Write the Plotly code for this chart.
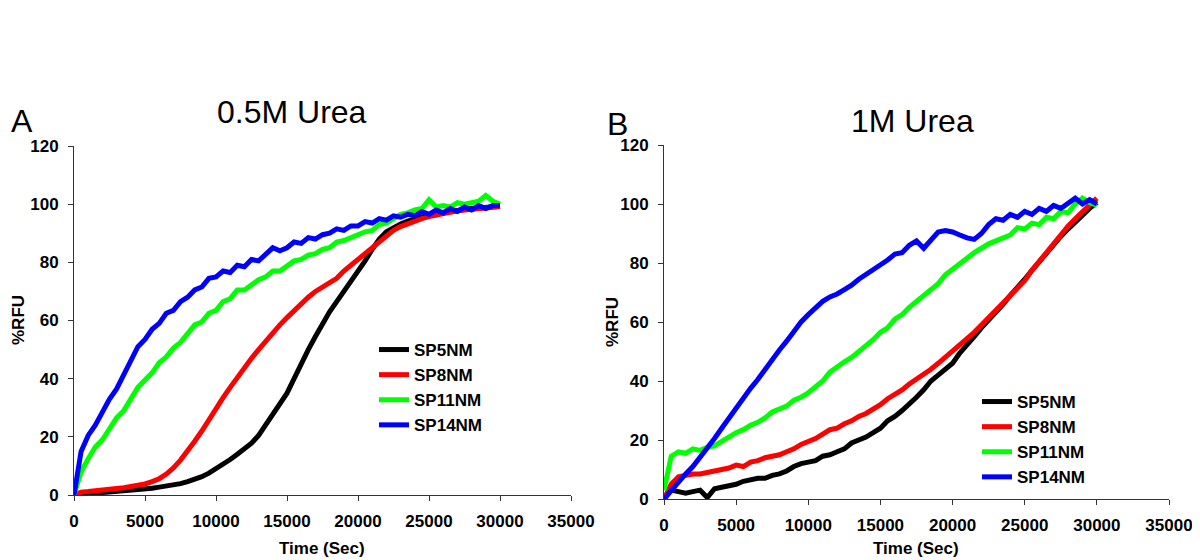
import plotly.graph_objects as go

# sampling grid (sec), one reading every 500 s
time_sec = list(range(0, 30001, 500))

# panel A: 0.5M urea, %RFU
a_sp5 = [0, 0.2, 0.3, 0.4, 0.6, 0.8, 1.0, 1.2, 1.5, 1.8, 2.0, 2.3, 2.7, 3.0, 3.4, 3.9,
         4.6, 5.4, 6.3, 7.5, 9.0, 10.5, 12.2, 14.0, 15.8, 17.8, 20.5, 24, 27.5, 31, 35,
         40, 45.5, 50, 54.5, 59, 63, 66.5, 70, 73, 76.5, 80.5, 84.5, 88, 90.5, 92, 93.2,
         94.2, 95, 95.7, 96.3, 96.8, 97.2, 97.6, 97.9, 98.2, 98.5, 98.7, 98.9, 99.1, 99.3]
a_sp8 = [0, 1.0, 1.2, 1.4, 1.6, 1.8, 2.1, 2.5, 2.9, 3.3, 3.8, 4.6, 5.6, 7.2, 9.3, 12,
         15, 18.5, 22, 26, 30, 33.5, 37, 40.5, 44, 47, 50, 53, 56, 58.5, 61,
         63.5, 66, 68, 70, 71.5, 73, 74.5, 77, 79, 81, 83, 85.5, 87.5, 89.5, 91, 92.3,
         93.3, 94.2, 95, 95.7, 96.3, 96.8, 97.3, 97.7, 98, 98.3, 98.6, 98.8, 99, 99.2]
a_sp11 = [0, 8, 12.5, 16.5, 19, 22.5, 26.5, 29, 33, 37, 39.5, 42, 45.5, 47.5, 50.5, 52.5,
          55.5, 58.5, 59.5, 62.5, 63.5, 66.5, 67.5, 70.5, 70.5, 72.5, 74, 75, 77, 77, 78.5,
          80.5, 81, 82.5, 83, 84.5, 85, 87, 87.5, 88.5, 89.5, 90.5, 91, 93, 93.5, 95, 96.5,
          97, 98, 98.5, 101.5, 99, 99.5, 99, 100.5, 100, 100.5, 101, 103, 101, 100]
a_sp14 = [0, 15, 20.5, 24, 28.5, 33, 36.5, 41.5, 46, 51, 53.5, 57, 59, 62.5, 63.5, 66.5,
          68, 70.5, 71.5, 74.5, 75, 77, 76.5, 79, 78.5, 81, 80.5, 82.5, 85, 84, 85,
          87, 86.5, 88.5, 88, 89.5, 90, 91.5, 91, 92.5, 92.5, 94, 93.5, 95, 94.5, 96, 95.5,
          96.5, 96, 97.5, 96.5, 98, 97, 98.5, 97.5, 99, 98, 99.5, 98.5, 99.5, 99.5]

# panel B: 1M urea, %RFU
b_sp5 = [0, 3, 2.5, 2, 2.5, 3, 0.5, 3.5, 4, 4.5, 5, 6, 6.5, 7, 7, 8,
         8.5, 9.5, 11, 12, 12.5, 13, 14.5, 15, 16, 17, 19, 20, 21, 22.5, 24,
         26.5, 28, 30, 32, 34.5, 37, 40, 42, 44, 46, 49.5, 52, 55, 58, 60.5, 63,
         66, 69, 71.5, 74.5, 77.5, 80.5, 83.5, 86.5, 89, 91.5, 94, 96.5, 98.5, 100.5]
b_sp8 = [0, 5, 7.5, 8, 8.5, 8.5, 9, 9.5, 10, 10.5, 11.5, 11, 12.5, 13, 14, 14.5,
         15, 16, 17, 18.5, 19.5, 20.5, 22, 23.5, 24, 25.5, 26.5, 28, 29, 30.5, 32,
         34, 35.5, 37, 39, 40.5, 42, 44, 46, 48, 50, 52, 54.5, 56.5, 59, 61.5, 64,
         66.5, 69, 71.5, 74, 77.5, 80.5, 83.5, 87, 90, 92.5, 95, 97.5, 100, 102]
b_sp11 = [3, 14.5, 16, 15.5, 17, 16.5, 17.5, 18, 19.5, 21, 22.5, 23.5, 25, 26, 27.5, 29.5,
          30.5, 31.5, 33.5, 34.5, 36, 38, 40, 43, 45, 46.5, 48, 50, 51.5, 54, 56.5,
          58, 61, 62.5, 65, 67, 69, 70.5, 73, 76, 78, 80, 82, 83.5, 85, 86.5, 87.5,
          88.5, 89.5, 92, 91.5, 93.5, 93, 95.5, 95, 97.5, 97, 100, 102, 100.5, 99.5]
b_sp14 = [0, 3, 5.5, 8.5, 11, 14, 17, 20.5, 24, 27.5, 31, 34.5, 37.5, 40.5, 44, 47,
          50.5, 53.5, 57, 60, 62.5, 65, 67, 68.5, 69.5, 71, 72.5, 74.5, 76, 77.5, 79.5,
          81, 83, 83.5, 86, 87.5, 85, 88, 90.5, 91, 90.5, 89.5, 88.5, 88, 90, 93, 95,
          94.5, 96.5, 95.5, 97.5, 96.5, 98.5, 97.5, 99.5, 98.5, 100.5, 102, 100, 101.5, 100]

names = ['SP5NM', 'SP8NM', 'SP11NM', 'SP14NM']
colors = ['#000000', '#ff0000', '#00ff00', '#0000ff']

FONT = 'Arial, Liberation Sans, sans-serif'

fig = go.Figure()
for name, color, ys in zip(names, colors, [a_sp5, a_sp8, a_sp11, a_sp14]):
    fig.add_trace(go.Scatter(x=time_sec, y=ys, name=name, mode='lines',
                             line=dict(color=color, width=5),
                             xaxis='x', yaxis='y', legend='legend'))
for name, color, ys in zip(names, colors, [b_sp5, b_sp8, b_sp11, b_sp14]):
    fig.add_trace(go.Scatter(x=time_sec, y=ys, name=name, mode='lines',
                             line=dict(color=color, width=5),
                             xaxis='x2', yaxis='y2', legend='legend2'))

# the page body has an 8px margin, so the figure is drawn from (8, 8)
OFF = 8
W, H = 1200 - OFF, 560 - OFF

def px_x(p):
    return (p - OFF) / W

def px_y(p):
    return 1 - (p - OFF) / H

axis_common = dict(showline=True, linecolor='#333333', linewidth=1, ticks='outside',
                   ticklen=5, tickcolor='#333333', showgrid=False, zeroline=False,
                   automargin=False, tickformat='d',
                   tickfont=dict(family=FONT, size=17, color='black', weight='bold'),
                   ticklabelstandoff=6)

fig.update_layout(
    width=W, height=H,
    margin=dict(l=0, r=0, t=0, b=0),
    plot_bgcolor='white', paper_bgcolor='white',
    xaxis=dict(domain=[px_x(74), px_x(571)], range=[0, 35000], dtick=5000,
               anchor='y', **axis_common),
    yaxis=dict(domain=[px_y(495), px_y(146)], range=[0, 120], dtick=20,
               anchor='x', **axis_common),
    xaxis2=dict(domain=[px_x(664), px_x(1169)], range=[0, 35000], dtick=5000,
                anchor='y2', **axis_common),
    yaxis2=dict(domain=[px_y(499), px_y(145)], range=[0, 120], dtick=20,
                anchor='x2', **axis_common),
    legend=dict(x=px_x(374), y=px_y(332), xanchor='left', yanchor='top',
                bgcolor='rgba(0,0,0,0)', tracegroupgap=0,
                font=dict(family=FONT, size=17, color='black', weight='bold')),
    legend2=dict(x=px_x(977), y=px_y(384), xanchor='left', yanchor='top',
                 bgcolor='rgba(0,0,0,0)', tracegroupgap=0,
                 font=dict(family=FONT, size=17, color='black', weight='bold')),
    showlegend=True,
)

bold = dict(family=FONT, size=17, color='black', weight='bold')
annotations = [
    dict(text='0.5M Urea', x=px_x(292), y=px_y(112), font=dict(family=FONT, size=32, color='black')),
    dict(text='A', x=px_x(22), y=px_y(121), font=dict(family=FONT, size=32, color='black')),
    dict(text='1M Urea', x=px_x(912), y=px_y(121), font=dict(family=FONT, size=32, color='black')),
    dict(text='B', x=px_x(617), y=px_y(124), font=dict(family=FONT, size=32, color='black')),
    dict(text='%RFU', x=px_x(18), y=px_y(320), textangle=-90, font=bold),
    dict(text='%RFU', x=px_x(612), y=px_y(322), textangle=-90, font=bold),
    dict(text='Time (Sec)', x=px_x(322), y=px_y(548), font=bold),
    dict(text='Time (Sec)', x=px_x(916), y=px_y(548), font=bold),
]
for a in annotations:
    fig.add_annotation(xref='paper', yref='paper', showarrow=False,
                       xanchor='center', yanchor='middle', **a)

fig.write_html("out.html")
